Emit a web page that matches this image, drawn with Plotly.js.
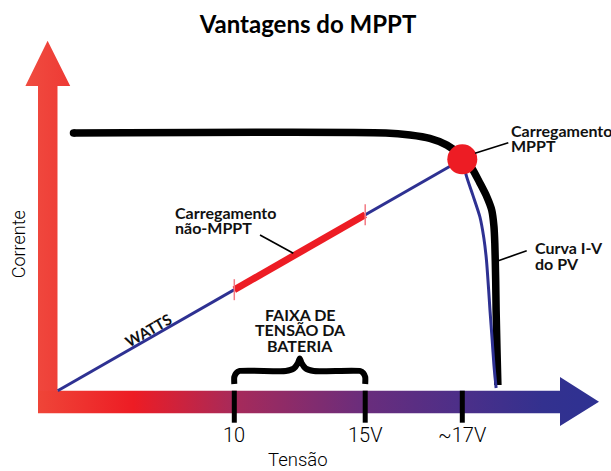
<!DOCTYPE html>
<html>
<head>
<meta charset="utf-8">
<script src="https://cdn.plot.ly/plotly-3.0.1.min.js"></script>
<style>html,body{margin:0;padding:0;background:#fff;}#chart{width:611px;height:471px;}</style>
</head>
<body>
<div id="chart"></div>
<script>
// ---- data (schematic units: % of open-circuit voltage, % of short-circuit current) ----
const ivVoltage = [3.6, 74.7, 80.2, 84.7, 88.6, 92.0, 94.3, 96.1, 97.7, 98.8, 99.3, 99.5, 99.7, 99.8, 100.0, 100.2];
const ivCurrent = [100, 100, 99.2, 97.9, 95.3, 91.0, 86.3, 80.6, 75.2, 70.1, 63.9, 57.3, 43.0, 31.3, 15.8, 2.2];
const mppVoltage = [92.1];
const mppCurrent = [89.8];
const bluePathVoltage = [92.1, 93.1, 94.5, 96.1, 97.0, 97.6, 98.1, 98.4, 98.9, 99.3, 99.8];
const bluePathCurrent = [89.8, 83.0, 75.9, 67.5, 59.3, 50.7, 39.1, 31.3, 19.7, 10.0, 1.05];
const batteryRange = [40.2, 70.0];
const tickPositions = [40.2, 70.0, 92.1];
const tickLabels = ['10', '15V', '~17V'];

// ---- page geometry ----
const W = 611, H = 471;
const X0 = 57.7, Y0 = 390.7, SX = 4.393, SY = 2.577; // origin in page px, px per unit
const dx = px => (px - X0) / SX;
const dy = py => (Y0 - py) / SY;

const traces = [];
function poly(pts, gradient) {
  const xs = pts.map(p => dx(p[0])), ys = pts.map(p => dy(p[1]));
  xs.push(xs[0]); ys.push(ys[0]);
  traces.push({x: xs, y: ys, mode: 'lines', fill: 'toself', line: {width: 0, color: 'rgba(0,0,0,0)'},
    fillcolor: gradient[0][1], fillgradient: {type: 'horizontal', colorscale: gradient}, hoverinfo: 'skip'});
}
// vertical axis arrow
poly([[38,405],[38,86],[25.4,86],[47.6,40.7],[70.2,86],[57.5,86],[57.5,405]],
  [[0,'#F04C40'],[1,'#EE3A35']]);
// horizontal axis arrow
poly([[38,390.7],[560,390.7],[560,377],[599,401.7],[560,426],[560,413.3],[38,413.3]],
  [[0,'#EF4538'],[0.17,'#ED1C24'],[0.35,'#A72A5A'],[0.58,'#6A2D7C'],[0.76,'#4B2F89'],[0.9,'#33318F'],[1,'#2E3192']]);

// axis ticks
const tx = [], ty = [];
tickPositions.forEach(t => { tx.push(t, t, null); ty.push(0, dy(422.7), null); });
traces.push({x: tx, y: ty, mode: 'lines', line: {color: '#000', width: 5}, hoverinfo: 'skip'});

// brace over battery range
(function(){
  const a = batteryRange[0], b = batteryRange[1], m = (a + b) / 2;
  const yb = dy(384), ybar = dy(371), ypk = dy(358.5);
  const bx = [a, a, a+2/SX, a+5/SX, m-14/SX, m-6/SX, m-1.8/SX, m, m+1.8/SX, m+6/SX, m+14/SX, b-5/SX, b-2/SX, b, b];
  const by = [yb, dy(377), dy(373), ybar, ybar, dy(368.5), dy(363), ypk, dy(363), dy(368.5), ybar, ybar, dy(373), dy(377), yb];
  traces.push({x: bx, y: by, mode: 'lines', line: {color: '#000', width: 6, shape: 'spline', smoothing: 0.6}, hoverinfo: 'skip'});
})();

// I-V curve
traces.push({x: ivVoltage, y: ivCurrent, mode: 'lines', line: {color: '#000', width: 7.5, shape: 'spline', smoothing: 0.7}, hoverinfo: 'skip'});
traces.push({x: [ivVoltage[0]], y: [ivCurrent[0]], mode: 'markers', marker: {color: '#000', size: 7.5}, hoverinfo: 'skip'});
// blue curve below MPP
traces.push({x: bluePathVoltage, y: bluePathCurrent, mode: 'lines', line: {color: '#2E3192', width: 3, shape: 'spline', smoothing: 0.7}, hoverinfo: 'skip'});
// WATTS line from origin to MPP
traces.push({x: [0, mppVoltage[0]], y: [0, mppCurrent[0]], mode: 'lines', line: {color: '#2E3192', width: 3}, hoverinfo: 'skip'});
// non-MPPT segment along the line, over battery range
const k = mppCurrent[0] / mppVoltage[0];
traces.push({x: batteryRange, y: batteryRange.map(v => v * k), mode: 'lines', line: {color: '#ED1C24', width: 7}, hoverinfo: 'skip'});
traces.push({x: batteryRange, y: batteryRange.map(v => v * k), mode: 'markers',
  marker: {symbol: 'line-ns', size: 15, line: {color: '#F37A84', width: 1.5}}, hoverinfo: 'skip'});
// MPP dot
traces.push({x: mppVoltage, y: mppCurrent, mode: 'markers', marker: {color: '#ED1C24', size: 30}, hoverinfo: 'skip'});

// ---- labels ----
const bold = {family: 'Lato, sans-serif', size: 16, weight: 700, color: '#111'};
const light = {family: 'Roboto, sans-serif', size: 20, weight: 300, color: '#000'};
function lab(text, px, py, xanchor, font, angle) {
  return {text: text, x: dx(px), y: dy(py), xref: 'x', yref: 'y', xanchor: xanchor || 'left', yanchor: 'middle',
    showarrow: false, font: font || bold, textangle: angle || 0};
}
const annotations = [
  lab('Carregamento', 509, 130), lab('MPPT', 509, 145.5),
  lab('Carregamento', 172.7, 212), lab('não-MPPT', 172.7, 227.5),
  lab('Curva I-V', 533, 247.5), lab('do PV', 533, 263.7),
  lab('FAIXA DE', 300, 314, 'center'), lab('TENSÃO DA', 300, 329.5, 'center'), lab('BATERIA', 300, 345.5, 'center'),
  lab('WATTS', 148.3, 330, 'center', Object.assign({}, bold, {size: 15}), -29.8),
  lab('Tensão', 298, 459.5, 'center', Object.assign({}, light, {size: 18.5})),
  lab('Corrente', 18.3, 244, 'center', Object.assign({}, light, {size: 18}), -90)
];
tickPositions.forEach((t, i) => annotations.push({text: tickLabels[i], x: t, y: dy(435), xref: 'x', yref: 'y',
  xanchor: 'center', yanchor: 'middle', showarrow: false, font: light}));

function leader(x1, y1, x2, y2) {
  return {type: 'line', xref: 'x', yref: 'y', x0: dx(x1), y0: dy(y1), x1: dx(x2), y1: dy(y2), line: {color: '#000', width: 1.6}};
}
const shapes = [leader(475, 153.3, 508.3, 142.7), leader(260, 235, 293.3, 253.3), leader(498.3, 260.7, 526.7, 250.7)];

const layout = {
  width: W, height: H,
  margin: {l: 0, r: 0, t: 0, b: 0},
  paper_bgcolor: '#fff', plot_bgcolor: '#fff',
  showlegend: false,
  title: {text: 'Vantagens do MPPT', x: 308 / W, xanchor: 'center', y: 1 - 25 / H, yref: 'container', yanchor: 'middle',
    font: {family: 'Lato, sans-serif', size: 24, weight: 700, color: '#000'}},
  xaxis: {range: [dx(0), dx(W)], visible: false, fixedrange: true},
  yaxis: {range: [dy(H), dy(0)], visible: false, fixedrange: true},
  annotations: annotations,
  shapes: shapes
};
Plotly.newPlot('chart', traces, layout, {displayModeBar: false, staticPlot: true});
</script>
</body>
</html>
